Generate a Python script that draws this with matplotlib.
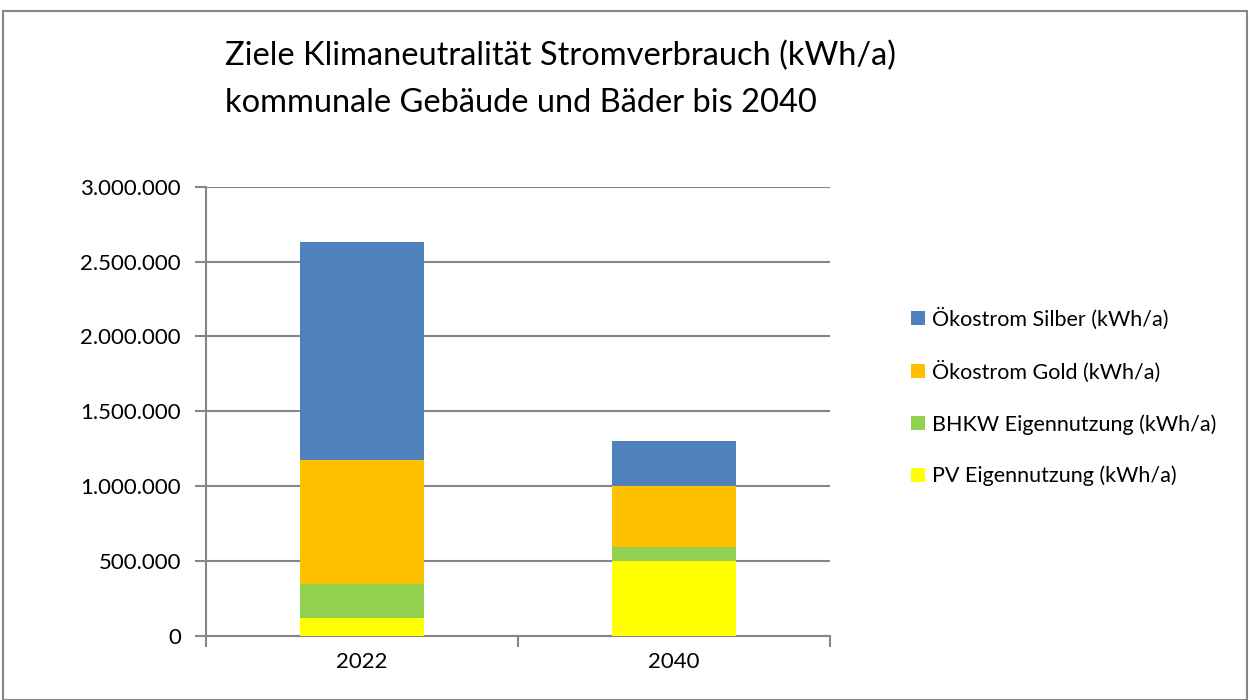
import matplotlib
matplotlib.use('Agg')
import matplotlib.pyplot as plt
from matplotlib.patches import Rectangle
from matplotlib.ticker import FuncFormatter
import numpy as np

plt.rcParams['font.family'] = ['Lato', 'DejaVu Sans']

# Daten
jahre = ['2022', '2040']
pv = [116000, 500000]
bhkw = [230000, 95000]
gold = [828000, 405000]
silber = [1460000, 300000]

serien = [
    ('PV Eigennutzung (kWh/a)', pv, '#FFFF00'),
    ('BHKW Eigennutzung (kWh/a)', bhkw, '#92D050'),
    ('Ökostrom Gold (kWh/a)', gold, '#FFC000'),
    ('Ökostrom Silber (kWh/a)', silber, '#4F81BD'),
]

GRAU = '#868686'

fig = plt.figure(figsize=(12.5, 7), dpi=100)
ax = fig.add_axes([0.1648, 0.0919, 0.4992, 0.6411])

x = np.arange(len(jahre))
unten = np.zeros(len(jahre))
handles = []
for name, werte, farbe in serien:
    h = ax.bar(x, werte, width=0.4, bottom=unten, color=farbe, label=name,
               edgecolor='none', zorder=3)
    handles.append(h)
    unten += np.array(werte)

ax.set_xlim(-0.5, 1.5)
ax.set_ylim(0, 3000000)
ax.set_yticks(np.arange(0, 3000001, 500000))
ax.yaxis.set_major_formatter(FuncFormatter(lambda v, p: f'{int(v):,}'.replace(',', '.')))
ax.set_xticks(x)
ax.set_xticklabels(jahre)
ax.set_xticks([-0.5, 0.5, 1.5], minor=True)

ax.grid(axis='y', color=GRAU, linewidth=1.5, zorder=0)
for s in ['top', 'right']:
    ax.spines[s].set_visible(False)
for s in ['left', 'bottom']:
    ax.spines[s].set_color(GRAU)
    ax.spines[s].set_linewidth(1.5)

ax.tick_params(axis='y', length=8, width=1.5, color=GRAU, labelsize=16, pad=10)
ax.tick_params(axis='x', which='major', length=0, labelsize=16, pad=12)
ax.tick_params(axis='x', which='minor', length=8, width=1.5, color=GRAU)

# Titel
fig.text(0.18, 0.886, 'Ziele Klimaneutralität Stromverbrauch (kWh/a)\nkommunale Gebäude und Bäder bis 2040',
         fontsize=23.5, ha='left', va='center', linespacing=1.7)

# Legende
leg = fig.legend(handles[::-1], [s[0] for s in serien][::-1], loc='center left',
                 bbox_to_anchor=(0.713, 0.433), frameon=False, fontsize=15.5,
                 handlelength=0.65, handleheight=0.65, handletextpad=0.35,
                 labelspacing=1.45)

# Rahmen
fig.add_artist(Rectangle((0.0025, 0.0), 0.995, 0.984, transform=fig.transFigure,
                         fill=False, edgecolor=GRAU, linewidth=1.5))

fig.savefig('out.png', dpi=100)
